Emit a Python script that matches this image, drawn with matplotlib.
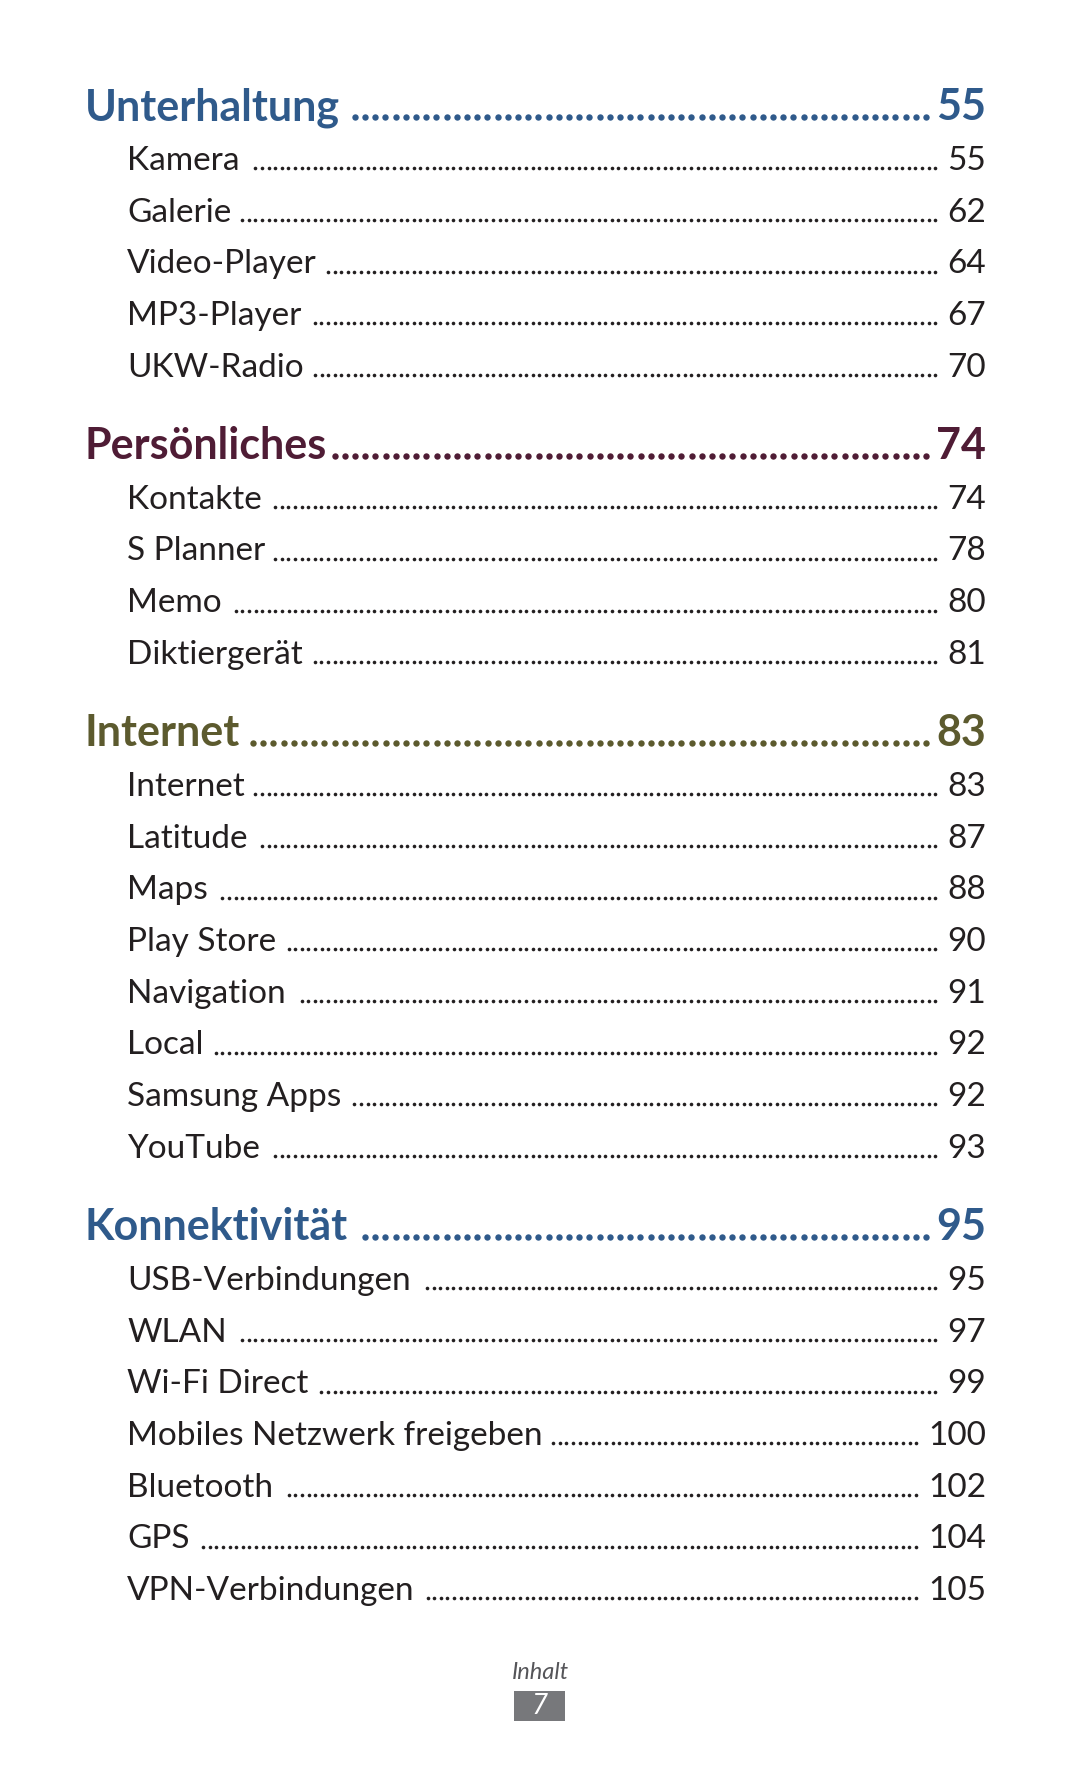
import matplotlib
matplotlib.use("Agg")
import numpy as np
import matplotlib.pyplot as plt
from matplotlib.patches import Rectangle

# Inhaltsverzeichnis-Daten
section_names = ["Unterhaltung", "Persönliches", "Internet", "Konnektivität"]
section_pages = ["55", "74", "83", "95"]
section_colors = ["#2f5a8b", "#4f1c35", "#5c5a2e", "#2f5a8b"]

items_unterhaltung = ["Kamera", "Galerie", "Video-Player", "MP3-Player", "UKW-Radio"]
pages_unterhaltung = ["55", "62", "64", "67", "70"]
items_persoenliches = ["Kontakte", "S Planner", "Memo", "Diktiergerät"]
pages_persoenliches = ["74", "78", "80", "81"]
items_internet = ["Internet", "Latitude", "Maps", "Play Store", "Navigation",
                  "Local", "Samsung Apps", "YouTube"]
pages_internet = ["83", "87", "88", "90", "91", "92", "92", "93"]
items_konnektivitaet = ["USB-Verbindungen", "WLAN", "Wi-Fi Direct",
                        "Mobiles Netzwerk freigeben", "Bluetooth", "GPS",
                        "VPN-Verbindungen"]
pages_konnektivitaet = ["95", "97", "99", "100", "102", "104", "105"]

section_items = [items_unterhaltung, items_persoenliches, items_internet, items_konnektivitaet]
section_item_pages = [pages_unterhaltung, pages_persoenliches, pages_internet, pages_konnektivitaet]

footer_label = "Inhalt"
page_number = "7"

# Layout (Pixel)
W, H = 1080, 1771
x_head, x_item, x_right = 85, 127, 986
y_start = 120
head_to_item = 50
item_step = 51.7
item_to_head = 82
font = "Lato"
text_color = "#231f20"

fig = plt.figure(figsize=(W / 100, H / 100), dpi=100)
ax = fig.add_axes([0, 0, 1, 1])
ax.set_xlim(0, W)
ax.set_ylim(H, 0)
ax.axis("off")
renderer = fig.canvas.get_renderer()


def x_edges(t):
    bb = t.get_window_extent(renderer)
    inv = ax.transData.inverted()
    return inv.transform((bb.x0, bb.y0))[0], inv.transform((bb.x1, bb.y0))[0]


def leader(t_left, t_right, y, color, size, gap_l, gap_r, step, offset):
    x0 = x_edges(t_left)[1] + gap_l
    x1 = x_edges(t_right)[0] - gap_r
    n = int((x1 - x0) // step)
    xs = x1 - np.arange(n + 1)[::-1] * step
    ax.plot(xs, np.full_like(xs, y - offset), linestyle="none", marker="o",
            markersize=size, color=color, markeredgewidth=0)


y = y_start
for name, page, col, items, pages in zip(section_names, section_pages, section_colors,
                                         section_items, section_item_pages):
    th = ax.text(x_head, y, name, fontsize=31, fontweight="bold", color=col,
                 family=font, va="baseline", ha="left")
    tp = ax.text(x_right, y, page, fontsize=31, fontweight="bold", color=col,
                 family=font, va="baseline", ha="right")
    leader(th, tp, y, col, 4.6, 7, 10, 10.2, 3)
    y += head_to_item
    for it, pg in zip(items, pages):
        ti = ax.text(x_item, y, it, fontsize=24, color=text_color,
                     family=font, va="baseline", ha="left")
        tq = ax.text(x_right, y, pg, fontsize=24, color=text_color,
                     family=font, va="baseline", ha="right")
        leader(ti, tq, y, text_color, 2.6, 10, 12, 6.6, 1.7)
        y += item_step
    y += item_to_head - item_step

# Fußzeile
ax.text(540, 1679, footer_label, fontsize=17, style="italic", color="#555559",
        family=font, ha="center", va="baseline")
ax.add_patch(Rectangle((514, 1691), 51, 30, color="#77787b", lw=0))
ax.text(539.5, 1706, page_number, fontsize=20, color="white", family=font,
        ha="center", va="center", style="italic")

fig.savefig("out.png", dpi=100, facecolor="white")
